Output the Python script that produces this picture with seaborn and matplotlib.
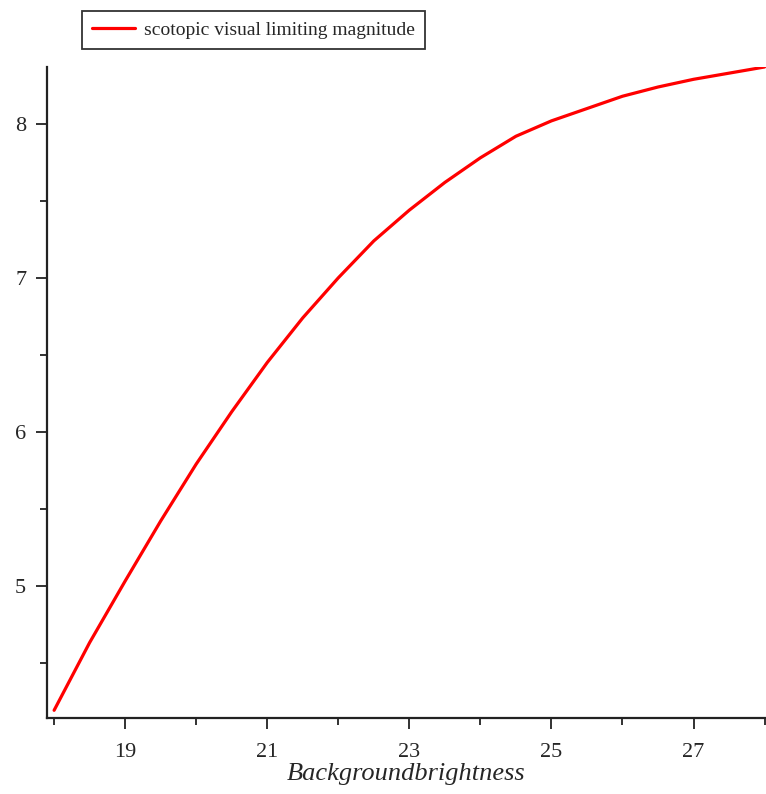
import numpy as np
import pandas as pd
import matplotlib
matplotlib.use("Agg")
import matplotlib.pyplot as plt
from matplotlib.ticker import FixedLocator
import seaborn as sns

# valores
brightness = [18.0, 18.5, 19.0, 19.5, 20.0, 20.5, 21.0, 21.5, 22.0, 22.5, 23.0,
              23.5, 24.0, 24.5, 25.0, 25.5, 26.0, 26.5, 27.0, 27.5, 28.0]
limiting_mag = [4.19, 4.63, 5.03, 5.42, 5.79, 6.13, 6.45, 6.74, 7.00, 7.24, 7.44,
                7.62, 7.78, 7.92, 8.02, 8.10, 8.18, 8.24, 8.29, 8.33, 8.37]
x_major = [19, 21, 23, 25, 27]
x_minor = [18, 20, 22, 24, 26, 28]
y_major = [5, 6, 7, 8]
y_minor = [4.5, 5.5, 6.5, 7.5]
series_label = "scotopic visual limiting magnitude"

df = pd.DataFrame({"x": brightness, "y": limiting_mag})

sns.set_style("white")
plt.rcParams["font.family"] = ["Liberation Serif", "DejaVu Serif"]

W, H = 766, 794
fig = plt.figure(figsize=(W / 100, H / 100), dpi=100)
ax = fig.add_axes([47 / W, 1 - 718 / H, (W - 47) / W, (718 - 67) / H])

sns.lineplot(data=df, x="x", y="y", ax=ax, color="#ff0000", linewidth=2.3,
             label=series_label, legend=False)

ax.set_xlim(17.9, 28.02)
ax.set_ylim(4.14, 8.37)

ax.xaxis.set_major_locator(FixedLocator(x_major))
ax.xaxis.set_minor_locator(FixedLocator(x_minor))
ax.yaxis.set_major_locator(FixedLocator(y_major))
ax.yaxis.set_minor_locator(FixedLocator(y_minor))
ax.set_xticklabels([str(v) for v in x_major])
ax.set_yticklabels([str(v) for v in y_major])

ax.tick_params(which="major", direction="out", length=8, width=1.3,
               color="#222222", labelsize=16, pad=7, bottom=True, left=True)
ax.tick_params(axis="x", which="major", pad=10)
ax.tick_params(which="minor", direction="out", length=5, width=1.3,
               color="#222222", bottom=True, left=True)

for side in ["top", "right"]:
    ax.spines[side].set_visible(False)
for side in ["left", "bottom"]:
    ax.spines[side].set_color("#222222")
    ax.spines[side].set_linewidth(1.6)

ax.set_xlabel("Backgroundbrightness", fontsize=19, fontstyle="italic", labelpad=1)
ax.set_ylabel("")

handles, labels = ax.get_legend_handles_labels()
if not handles:
    handles = ax.get_lines()[:1]
    labels = [series_label]
leg = fig.legend(handles, labels, loc="center",
                 bbox_to_anchor=(253.5 / W, 1 - 30 / H), fontsize=14,
                 frameon=True, fancybox=False, edgecolor="black",
                 handlelength=2.2, borderpad=0.5,
                 handletextpad=0.5, borderaxespad=0)
leg.get_frame().set_linewidth(1.3)

fig.savefig("out.png", dpi=100)
